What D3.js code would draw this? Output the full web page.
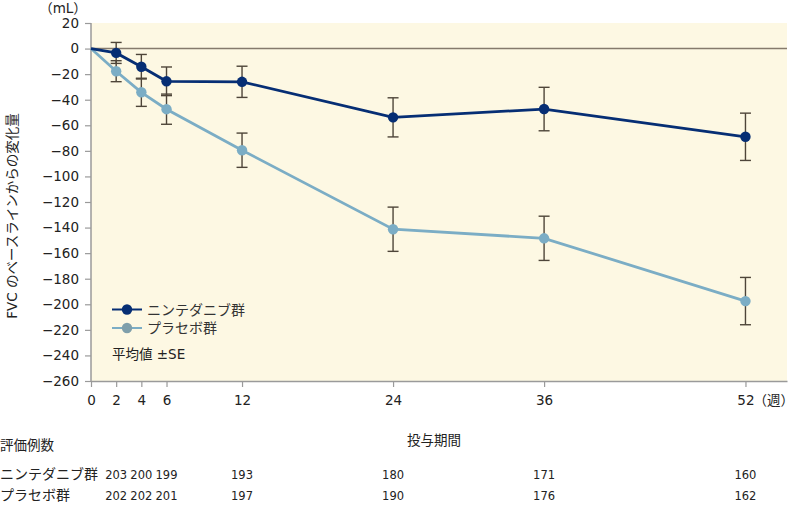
<!DOCTYPE html>
<html>
<head>
<meta charset="utf-8">
<script src="https://cdn.jsdelivr.net/npm/d3@7"></script>
<style>
  body { margin: 0; background: #fff; }
  svg { display: block; font-family: "DejaVu Sans", "Noto Sans CJK JP", sans-serif; }
</style>
</head>
<body>
<svg id="chart" width="800" height="505"></svg>
<script>
// weeks of treatment
const weeks = [0, 2, 4, 6, 12, 24, 36, 52];
const tickWeeks = [0, 2, 4, 6, 12, 24, 36, 52];
const yTicks = d3.range(20, -261, -20);

// mean change from baseline (mL) and SE
const nintedanibMean = [0, -3.4, -14.2, -25.6, -26.0, -53.8, -47.3, -69.0];
const nintedanibSE   = [0, 8.2, 9.6, 11.2, 12.2, 15.3, 17.0, 18.5];
const placeboMean    = [0, -17.7, -34.2, -47.4, -79.5, -141.3, -148.4, -197.5];
const placeboSE      = [0, 8.2, 11.0, 11.8, 13.4, 17.3, 17.3, 18.5];

// number of evaluated patients
const nWeeks = [2, 4, 6, 12, 24, 36, 52];
const nintedanibN = [203, 200, 199, 193, 180, 171, 160];
const placeboN    = [202, 202, 201, 197, 190, 176, 162];

const groups = [
  { name: "ニンテダニブ群", mean: nintedanibMean, se: nintedanibSE, n: nintedanibN, color: "#062e74" },
  { name: "プラセボ群", mean: placeboMean, se: placeboSE, n: placeboN, color: "#7badc5" }
];

const svg = d3.select("#chart");
const margin = { left: 91, right: 13, top: 23, bottom: 124 };
const W = 800, H = 505;

const xScale = d3.scaleLinear().domain([0, 55.3]).range([margin.left, W - margin.right]);
const yScale = d3.scaleLinear().domain([-260, 20]).range([H - margin.bottom, margin.top]);

// plot background
svg.append("rect")
  .attr("x", xScale(0))
  .attr("y", yScale(20))
  .attr("width", xScale(55.3) - xScale(0))
  .attr("height", yScale(-260) - yScale(20))
  .attr("fill", "#fdf8e3");

// zero line
svg.append("line")
  .attr("x1", xScale(0)).attr("x2", xScale(55.3))
  .attr("y1", yScale(0)).attr("y2", yScale(0))
  .attr("stroke", "#857a6c").attr("stroke-width", 1.5);

// axes
const yAxis = d3.axisLeft(yScale)
  .tickValues(yTicks)
  .tickSize(6)
  .tickPadding(6)
  .tickFormat(d => d < 0 ? "\u2212" + Math.abs(d) : d);

const xAxis = d3.axisBottom(xScale)
  .tickValues(tickWeeks)
  .tickSize(6)
  .tickPadding(8)
  .tickSizeOuter(0);

const gy = svg.append("g").attr("transform", `translate(${xScale(0)},0)`).call(yAxis);
const gx = svg.append("g").attr("transform", `translate(0,${yScale(-260)})`).call(xAxis);

[gx, gy].forEach(ax => {
  ax.select(".domain").attr("stroke", "#9a9a9a").attr("stroke-width", 1.5);
  ax.selectAll(".tick line").attr("stroke", "#9a9a9a").attr("stroke-width", 1.2);
  ax.selectAll(".tick text")
    .attr("fill", "#222")
    .style("font-size", "13.5px")
    .style("font-family", "\"DejaVu Sans\", \"Noto Sans CJK JP\", sans-serif");
});
gy.select(".domain").attr("d", `M0,${yScale(20)}V${yScale(-260)}`);

// unit labels
svg.append("text")
  .attr("x", 63).attr("y", 13)
  .attr("text-anchor", "middle")
  .style("font-size", "13.5px")
  .attr("fill", "#222")
  .text("（mL）");

svg.append("text")
  .attr("x", xScale(52) + 8).attr("y", yScale(-260) + 24)
  .style("font-size", "13.5px")
  .attr("fill", "#222")
  .text("（週）");

// y title
svg.append("text")
  .attr("transform", `translate(17,216) rotate(-90)`)
  .attr("text-anchor", "middle")
  .style("font-size", "13.5px")
  .attr("fill", "#222")
  .text("FVC のベースラインからの変化量");

// series
const line = d3.line()
  .x((d, i) => xScale(weeks[i]))
  .y(d => yScale(d));

groups.slice().reverse().forEach(grp => {
  svg.append("path")
    .datum(grp.mean)
    .attr("fill", "none")
    .attr("stroke", grp.color)
    .attr("stroke-width", 2.8)
    .attr("d", line);
});

groups.slice().reverse().forEach(grp => {
  const bars = svg.append("g")
    .selectAll("g")
    .data(weeks.map((w, i) => ({ w, m: grp.mean[i], se: grp.se[i] })).filter(d => d.se > 0))
    .enter().append("g")
    .attr("stroke", "#4e4539")
    .attr("stroke-width", 1.4);

  bars.append("line")
    .attr("x1", d => xScale(d.w)).attr("x2", d => xScale(d.w))
    .attr("y1", d => yScale(d.m + d.se)).attr("y2", d => yScale(d.m - d.se));
  bars.append("line")
    .attr("x1", d => xScale(d.w) - 5.5).attr("x2", d => xScale(d.w) + 5.5)
    .attr("y1", d => yScale(d.m + d.se)).attr("y2", d => yScale(d.m + d.se));
  bars.append("line")
    .attr("x1", d => xScale(d.w) - 5.5).attr("x2", d => xScale(d.w) + 5.5)
    .attr("y1", d => yScale(d.m - d.se)).attr("y2", d => yScale(d.m - d.se));
});

groups.slice().reverse().forEach(grp => {
  svg.append("g")
    .selectAll("circle")
    .data(grp.mean.slice(1))
    .enter().append("circle")
    .attr("cx", (d, i) => xScale(weeks[i + 1]))
    .attr("cy", d => yScale(d))
    .attr("r", 5.2)
    .attr("fill", grp.color);
});

// legend
const legend = svg.append("g");
groups.forEach((grp, i) => {
  const ly = 309.5 + i * 18.5;
  legend.append("line")
    .attr("x1", 112).attr("x2", 142)
    .attr("y1", ly).attr("y2", ly)
    .attr("stroke", grp.color).attr("stroke-width", 2);
  legend.append("circle")
    .attr("cx", 127).attr("cy", ly).attr("r", 5.2)
    .attr("fill", i === 0 ? grp.color : "#7f9fab");
  legend.append("text")
    .attr("x", 147).attr("y", ly + 5)
    .style("font-size", "14px")
    .attr("fill", "#333")
    .text(grp.name);
});
legend.append("text")
  .attr("x", 112).attr("y", 359)
  .style("font-size", "13.5px")
  .attr("fill", "#222")
  .text("平均値 ±SE");

// x title
svg.append("text")
  .attr("x", 434).attr("y", 445)
  .attr("text-anchor", "middle")
  .style("font-size", "13.5px")
  .attr("fill", "#222")
  .text("投与期間");

// patients table
svg.append("text")
  .attr("x", 0).attr("y", 450)
  .style("font-size", "13.5px")
  .attr("fill", "#222")
  .text("評価例数");

groups.forEach((grp, gi) => {
  const ry = 479 + gi * 21;
  svg.append("text")
    .attr("x", 0).attr("y", ry)
    .style("font-size", "14px")
    .attr("fill", "#222")
    .text(grp.name);
  svg.append("g")
    .selectAll("text")
    .data(grp.n)
    .enter().append("text")
    .attr("x", (d, i) => xScale(nWeeks[i]))
    .attr("y", ry)
    .attr("text-anchor", "middle")
    .style("font-size", "11.5px")
    .attr("fill", "#222")
    .text(d => d);
});
</script>
</body>
</html>
